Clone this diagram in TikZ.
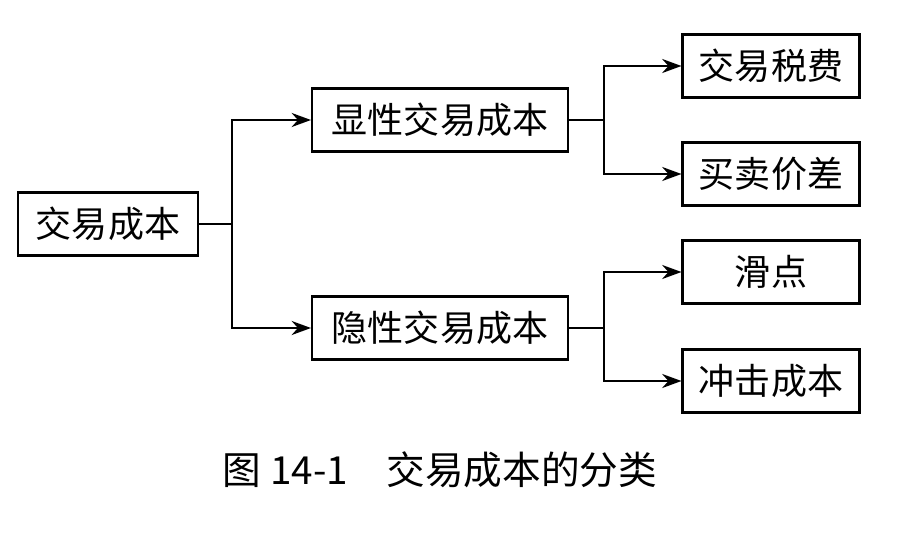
\documentclass[tikz,border=0pt]{standalone}
\usepackage{fontspec}
\newfontfamily\cjk{Noto Sans CJK SC}
\usetikzlibrary{arrows.meta,positioning}
\tikzset{
  box/.style={draw, line width=1.2pt, minimum height=1.26cm, inner sep=0pt, font=\cjk\fontsize{20.5}{24}\selectfont},
  link/.style={line width=1.2pt, -{Stealth[length=11pt,width=8pt]}}
}
\begin{document}
\begin{tikzpicture}[x=0.02cm, y=-0.02cm]
    \useasboundingbox (0,0) rectangle (908,544);

    %% Kasten
    \node[box, minimum width=3.6cm] (root) at (108,224) {交易成本};
    \node[box, minimum width=5.12cm] (expl) at (440,120) {显性交易成本};
    \node[box, minimum width=5.12cm] (impl) at (440,328) {隐性交易成本};
    \node[box, minimum width=3.54cm] (tax) at (771,66) {交易税费};
    \node[box, minimum width=3.54cm] (spread) at (771,174) {买卖价差};
    \node[box, minimum width=3.54cm] (slip) at (771,272) {滑点};
    \node[box, minimum width=3.54cm] (impact) at (771,381) {冲击成本};

    %% Verbindungen
    \coordinate (j1) at (232,224);
    \coordinate (j2) at (604,120);
    \coordinate (j3) at (604,328);
    \draw[line width=1.2pt] (root.east) -- (j1);
    \draw[link] (j1) |- (expl.west);
    \draw[link] (j1) |- (impl.west);
    \draw[line width=1.2pt] (expl.east) -- (j2);
    \draw[link] (j2) |- (tax.west);
    \draw[link] (j2) |- (spread.west);
    \draw[line width=1.2pt] (impl.east) -- (j3);
    \draw[link] (j3) |- (slip.west);
    \draw[link] (j3) |- (impact.west);

    \node[font=\cjk\fontsize{22}{26}\selectfont] (cap) at (440,470) {图 14-1\quad 交易成本的分类};
\end{tikzpicture}
\end{document}
